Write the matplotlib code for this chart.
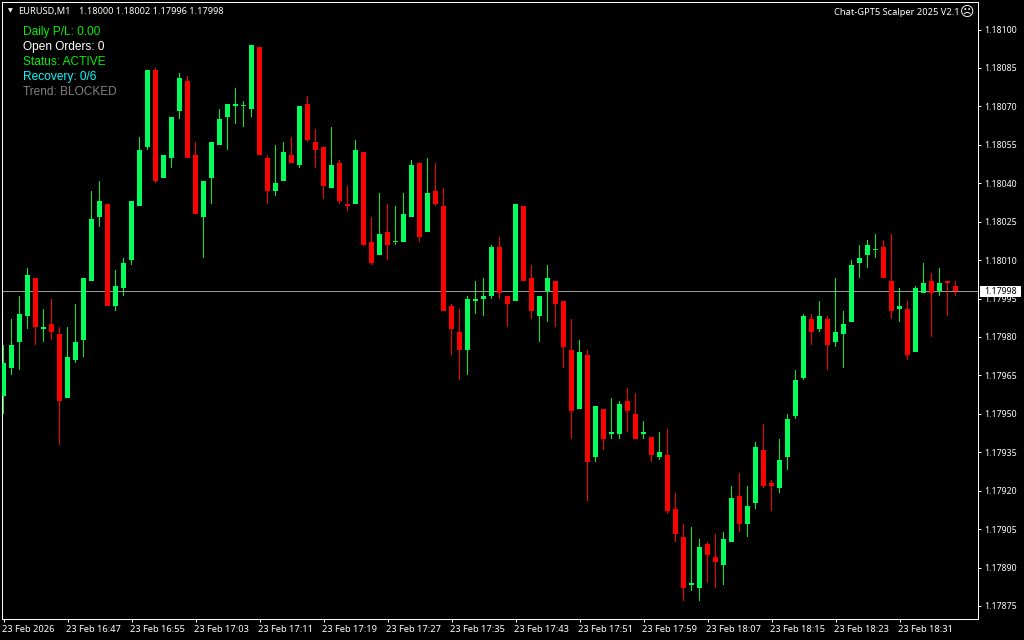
import matplotlib
matplotlib.use('Agg')
import matplotlib.pyplot as plt
from matplotlib.patches import Rectangle
import numpy as np

# prices in points (1e-5), one entry per M1 candle
opens = [117957,117968,117978,117988,118003,117983,117985,117981,117956,117971,
         117979,118002,118027,118032,117992,117999,118010,118031,118054,118084,
         118042,118050,118068,118080,118051,118027,118042,118055,118066,118070,
         118070,118069,118093,118050,118037,118041,118051,118047,118071,118056,
         118054,118038,118048,118032,118032,118052,118017,118012,118021,118017,
         118017,118027,118048,118021,118037,118031,117992,117982,117975,117994,
         117995,117996,118015,117996,117994,118031,118003,117988,117998,118002,
         117994,117975,117952,117973,117933,117952,117942,117942,117955,117950,
         117942,117941,117933,117934,117913,117902,117883,117882,117899,117894,
         117891,117900,117918,117907,117915,117936,117923,117921,117933,117949,
         117964,117987,117983,117987,117978,117981,117986,118009,118012,118014,
         118015,118002,117991,117991,117974,117997,118002,117998,118002,118000]
highs = [117977,117987,117996,118007,118003,117991,117995,117984,117984,117993,
         118003,118037,118041,118032,118006,118011,118033,118058,118084,118085,
         118051,118066,118083,118082,118056,118041,118056,118069,118071,118077,
         118072,118094,118093,118051,118055,118056,118058,118070,118074,118061,
         118054,118062,118049,118039,118057,118052,118027,118036,118032,118031,
         118036,118049,118048,118050,118048,118038,117993,117991,117996,118002,
         118003,118016,118019,117996,118032,118031,118008,117996,118008,118002,
         117994,117987,117979,117975,117953,117952,117956,117955,117960,117958,
         117947,117941,117943,117944,117919,117907,117906,117901,117900,117903,
         117904,117922,117927,117922,117939,117946,117924,117940,117950,117967,
         117989,117989,117994,117988,118003,117990,118010,118016,118018,118020,
         118018,118020,117999,117994,118000,118009,118005,118007,118002,118002]
lows = [117950,117965,117967,117983,117977,117978,117979,117938,117956,117970,
        117972,118002,118023,117992,117990,117996,118008,118031,118053,118040,
        118042,118046,118065,118050,118028,118011,118032,118055,118053,118063,
        118062,118066,118051,118032,118035,118041,118048,118046,118056,118046,
        118034,118038,118032,118029,118032,118016,118008,118012,118010,118016,
        118017,118027,118017,118021,118031,117990,117973,117963,117965,117989,
        117988,117995,117995,117984,117994,118002,117987,117978,117986,117984,
        117968,117940,117952,117916,117931,117936,117940,117940,117943,117940,
        117940,117931,117932,117911,117900,117877,117881,117877,117884,117882,
        117883,117900,117904,117902,117913,117921,117912,117919,117928,117948,
        117963,117977,117982,117967,117976,117968,117986,118003,118007,118011,
        118003,117987,117986,117971,117974,117997,117980,117996,117988,117996]
closes = [117970,117977,117989,118004,117984,117984,117982,117955,117972,117978,
          118003,118026,118033,117992,118000,118009,118033,118053,118084,118041,
          118051,118066,118081,118050,118028,118041,118056,118065,118071,118071,
          118070,118094,118051,118037,118040,118052,118048,118070,118057,118053,
          118039,118047,118033,118031,118053,118016,118009,118020,118016,118017,
          118028,118047,118019,118036,118032,117990,117983,117975,117995,117995,
          117996,118015,117997,117993,118032,118002,117990,117996,118003,117993,
          117976,117951,117974,117931,117953,117940,117943,117954,117951,117940,
          117943,117934,117935,117912,117903,117882,117884,117898,117895,117892,
          117901,117917,117907,117914,117937,117922,117922,117932,117948,117963,
          117988,117982,117988,117977,117982,117985,118008,118011,118016,118014,
          118003,117990,117992,117973,117999,118001,117997,118001,118001,117998]

time_labels = ['23 Feb 2026', '23 Feb 16:47', '23 Feb 16:55', '23 Feb 17:03', '23 Feb 17:11',
               '23 Feb 17:19', '23 Feb 17:27', '23 Feb 17:35', '23 Feb 17:43', '23 Feb 17:51',
               '23 Feb 17:59', '23 Feb 18:07', '23 Feb 18:15', '23 Feb 18:23', '23 Feb 18:31']
price_ticks = [118100, 118085, 118070, 118055, 118040, 118025, 118010, 117995,
               117980, 117965, 117950, 117935, 117920, 117905, 117890, 117875]
last_price = 117998

panel_lines = ['Daily P/L: 0.00', 'Open Orders: 0', 'Status: ACTIVE', 'Recovery: 0/6', 'Trend: BLOCKED']
panel_colors = ['#00F000', '#FFFFFF', '#00F000', '#00FFFF', '#808080']

BULL = '#00FF5A'
WICK_BULL = '#00EE22'
BEAR = '#FF0000'
SMALL_FONT = 'Noto Sans'
SMALL_SIZE = 6.3
WORD_SIZE = 6.7
W, H = 1024, 640
PX_PER_POINT = 2.562

plt.rcParams['font.family'] = ['Liberation Sans', 'DejaVu Sans']


def px(x, y):
    # pixel position to figure fraction
    return x / W, 1 - y / H


fig = plt.figure(figsize=(W / 100, H / 100), dpi=100, facecolor='black')
left, right, top, bottom = 2.4, 978.4, 2.4, 619.4
ax = fig.add_axes([left / W, 1 - bottom / H, (right - left) / W, (bottom - top) / H], facecolor='black')

idx = np.arange(len(opens))
o = np.array(opens)
h = np.array(highs)
l = np.array(lows)
c = np.array(closes)
up = c >= o

ax.axhline(last_price, color='#9A9A9A', lw=0.72, zorder=1, antialiased=False)

# wicks are 1 px bars so they sit on the body centre
wick_colors = np.where(up, WICK_BULL, BEAR)
ax.bar(idx, h - l, bottom=l, width=1 / 8, color=wick_colors, linewidth=0, antialiased=False, zorder=2)

solid = o != c
colors = np.where(up, BULL, BEAR)
ax.bar(idx[solid], np.abs(c - o)[solid], bottom=np.minimum(o, c)[solid], width=5 / 8,
       color=colors[solid], linewidth=0, antialiased=False, zorder=3)
ax.bar(idx[~solid], 1 / PX_PER_POINT, bottom=c[~solid], width=5 / 8,
       color=WICK_BULL, linewidth=0, antialiased=False, zorder=3)

ax.set_xlim((left - 3.5) / 8, (right - 3.5) / 8)
ax.set_ylim(118100 - (bottom - 29.5) / PX_PER_POINT, 118100 + (29.5 - top) / PX_PER_POINT)

for s in ax.spines.values():
    s.set_color('white')
    s.set_linewidth(0.72)

ax.set_xticks(np.arange(len(time_labels)) * 8)
ax.set_xticklabels([])
ax.tick_params(axis='x', direction='out', length=2.2, width=0.72, color='white')
for i, txt in enumerate(time_labels):
    fx, fy = px(2 + 64 * i, 631.5)
    fig.text(fx, fy, txt, ha='left', va='baseline', fontsize=WORD_SIZE, color='white', family=SMALL_FONT)

ax.yaxis.tick_right()
ax.set_yticks(price_ticks)
ax.set_yticklabels(['%.5f' % (p / 1e5) for p in price_ticks], fontsize=SMALL_SIZE, color='white',
                   family=SMALL_FONT)
ax.tick_params(axis='y', direction='out', length=2.2, width=0.72, color='white', pad=1.7)

# last price flag on the scale
fig.add_artist(Rectangle(px(980, 297), 41 / W, 11 / H, transform=fig.transFigure, facecolor='white',
                         edgecolor='none', zorder=9))
fx, fy = px(984, 291.5)
fig.text(fx, fy, '%.5f' % (last_price / 1e5), ha='left', va='center', fontsize=SMALL_SIZE, color='black',
         family=SMALL_FONT, zorder=10)

# header
fx, fy = px(10, 10.5)
fig.text(fx, fy, '\u25bc', ha='center', va='center', fontsize=4.5, color='white', family='DejaVu Sans')
fx, fy = px(18, 14)
fig.text(fx, fy, 'EURUSD,M1', ha='left', va='baseline', fontsize=WORD_SIZE, color='white', family=SMALL_FONT)
fx, fy = px(79, 14)
fig.text(fx, fy, '1.18000 1.18002 1.17996 1.17998', ha='left', va='baseline', fontsize=6.6, color='white',
         family=SMALL_FONT)
fx, fy = px(960, 15)
fig.text(fx, fy, 'Chat-GPT5 Scalper 2025 V2.1', ha='right', va='baseline', fontsize=WORD_SIZE,
         color='white', family=SMALL_FONT)
fx, fy = px(967.5, 12)
fig.text(fx, fy, '\u2639', ha='center', va='center', fontsize=10, color='white', family='DejaVu Sans')

# status panel
for i, (txt, col) in enumerate(zip(panel_lines, panel_colors)):
    fx, fy = px(23, 35 + 15 * i)
    fig.text(fx, fy, txt, ha='left', va='baseline', fontsize=8.6, color=col)

fig.savefig('out.png', dpi=100, facecolor='black')
